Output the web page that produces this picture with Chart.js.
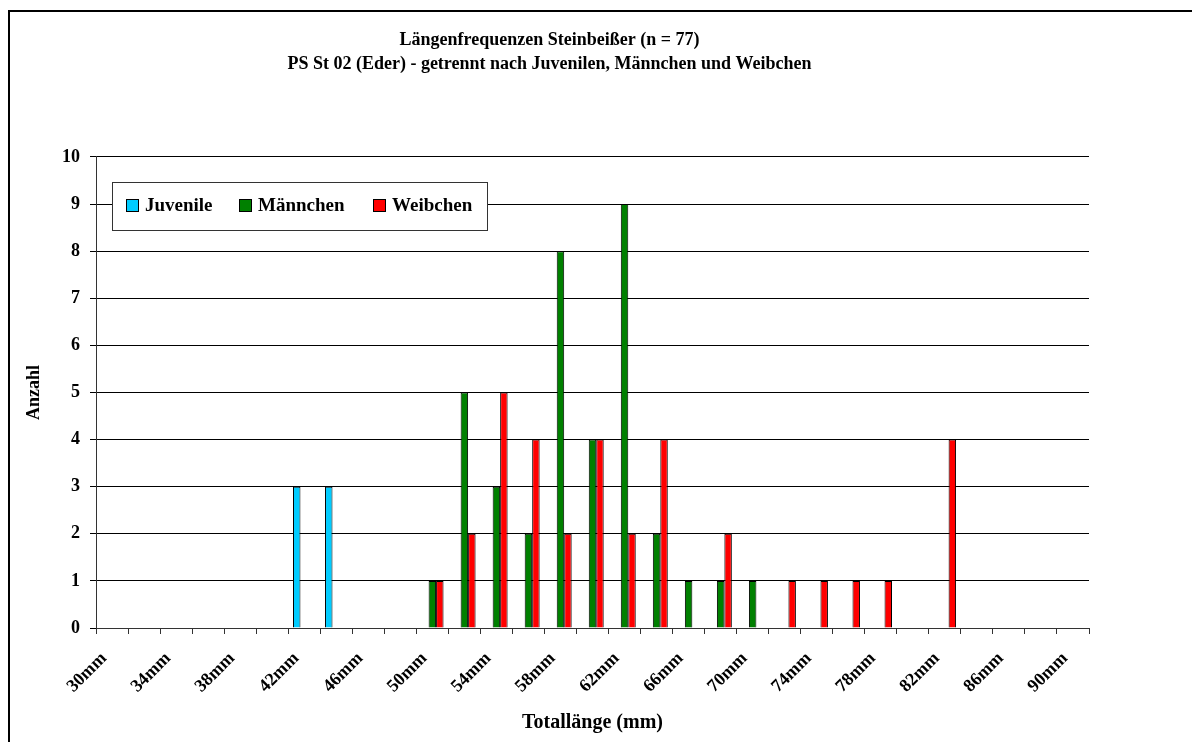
<!DOCTYPE html>
<html>
<head>
<meta charset="utf-8">
<script src="https://cdn.jsdelivr.net/npm/chart.js@4/dist/chart.umd.min.js"></script>
<style>
  html, body { margin: 0; padding: 0; background: #fff; }
  #wrap { width: 1192px; height: 742px; }
</style>
</head>
<body>
<div id="wrap"><canvas id="myChart" width="1192" height="742"></canvas></div>
<script>
// categories: 30mm .. 90mm in 2mm steps
var lengths = ["30mm", "32mm", "34mm", "36mm", "38mm", "40mm", "42mm", "44mm", "46mm", "48mm",
               "50mm", "52mm", "54mm", "56mm", "58mm", "60mm", "62mm", "64mm", "66mm", "68mm",
               "70mm", "72mm", "74mm", "76mm", "78mm", "80mm", "82mm", "84mm", "86mm", "88mm", "90mm"];

var juvenile = [0, 0, 0, 0, 0, 0, 3, 3, 0, 0,
                0, 0, 0, 0, 0, 0, 0, 0, 0, 0,
                0, 0, 0, 0, 0, 0, 0, 0, 0, 0, 0];
var maennchen = [0, 0, 0, 0, 0, 0, 0, 0, 0, 0,
                 1, 5, 3, 2, 8, 4, 9, 2, 1, 1,
                 1, 0, 0, 0, 0, 0, 0, 0, 0, 0, 0];
var weibchen = [0, 0, 0, 0, 0, 0, 0, 0, 0, 0,
                1, 2, 5, 4, 2, 4, 2, 4, 0, 2,
                0, 1, 1, 1, 1, 0, 4, 0, 0, 0, 0];

var yTicks = [0, 1, 2, 3, 4, 5, 6, 7, 8, 9, 10];

var serif = "'Liberation Serif', 'Times New Roman', serif";

// outer frame (only top and left edge visible)
var framePlugin = {
    id: 'frame',
    beforeDraw: function (chart) {
        var ctx = chart.ctx;
        ctx.save();
        ctx.fillStyle = '#fff';
        ctx.fillRect(0, 0, chart.width, chart.height);
        ctx.strokeStyle = '#000';
        ctx.lineWidth = 2;
        ctx.strokeRect(9, 11, 1300, 900);
        ctx.restore();
    }
};

// legend box inside the plot area
var boxLegend = {
    id: 'boxLegend',
    afterDraw: function (chart) {
        var ctx = chart.ctx;
        ctx.save();
        ctx.fillStyle = '#fff';
        ctx.fillRect(112, 182, 375, 48);
        ctx.strokeStyle = '#333';
        ctx.lineWidth = 1;
        ctx.strokeRect(112.5, 182.5, 375, 48);
        var xs = [126, 239, 373];
        ctx.font = 'bold 19px ' + serif;
        ctx.textBaseline = 'middle';
        chart.data.datasets.forEach(function (ds, i) {
            ctx.fillStyle = ds.backgroundColor;
            ctx.fillRect(xs[i], 199, 13, 13);
            ctx.strokeStyle = '#000';
            ctx.strokeRect(xs[i] + 0.5, 199.5, 12, 12);
            ctx.fillStyle = '#000';
            ctx.fillText(ds.label, xs[i] + 19, 206);
        });
        ctx.restore();
    }
};

var data = {
    labels: lengths,
    datasets: [{
        label: "Juvenile",
        data: juvenile,
        backgroundColor: '#00CCFF',
        borderColor: '#000',
        borderWidth: 1
    }, {
        label: "Männchen",
        data: maennchen,
        backgroundColor: '#008000',
        borderColor: '#000',
        borderWidth: 1
    }, {
        label: "Weibchen",
        data: weibchen,
        backgroundColor: '#FF0000',
        borderColor: '#000',
        borderWidth: 1
    }]
};

var ctx = document.getElementById('myChart').getContext('2d');
var myChart = new Chart(ctx, {
    type: 'bar',
    data: data,
    plugins: [framePlugin, boxLegend],
    options: {
        responsive: false,
        animation: false,
        devicePixelRatio: 1,
        layout: { padding: { left: 10, right: 103, top: 0, bottom: 0 } },
        datasets: {
            bar: { categoryPercentage: 0.70, barPercentage: 1.0 }
        },
        plugins: {
            legend: { display: false },
            tooltip: { enabled: false },
            title: {
                display: true,
                text: ["Längenfrequenzen Steinbeißer (n = 77)",
                       "PS St 02 (Eder) - getrennt nach Juvenilen, Männchen und Weibchen"],
                color: '#000',
                font: { family: serif, size: 18, weight: 'bold', lineHeight: 1.333 },
                padding: { top: 28, bottom: 81 }
            }
        },
        scales: {
            x: {
                offset: true,
                afterFit: function (scale) { scale.height = 114; },
                grid: {
                    offset: true,
                    drawOnChartArea: false,
                    drawTicks: true,
                    tickLength: 6,
                    color: '#333'
                },
                border: { color: '#333', width: 1 },
                ticks: {
                    autoSkip: false,
                    maxRotation: 45,
                    minRotation: 45,
                    padding: 14,
                    labelOffset: -8,
                    color: '#000',
                    font: { family: serif, size: 18, weight: 'bold' },
                    callback: function (val, idx) {
                        return idx % 2 === 0 ? lengths[idx] : '';
                    }
                },
                title: {
                    display: true,
                    text: 'Totallänge (mm)',
                    color: '#000',
                    font: { family: serif, size: 20, weight: 'bold', lineHeight: 1.2 },
                    padding: { top: 0, bottom: 7 }
                }
            },
            y: {
                min: 0,
                max: 10,
                afterFit: function (scale) { scale.width = 86; },
                afterBuildTicks: function (scale) {
                    scale.ticks = yTicks.map(function (v) { return { value: v }; });
                },
                grid: {
                    color: '#000',
                    lineWidth: 1,
                    tickLength: 6
                },
                border: { color: '#333', width: 1 },
                ticks: {
                    padding: 10,
                    color: '#000',
                    font: { family: serif, size: 18, weight: 'bold' }
                },
                title: {
                    display: true,
                    text: 'Anzahl',
                    color: '#000',
                    font: { family: serif, size: 18, weight: 'bold', lineHeight: 1.2 },
                    padding: { top: 14, bottom: 0 }
                }
            }
        }
    }
});
</script>
</body>
</html>
